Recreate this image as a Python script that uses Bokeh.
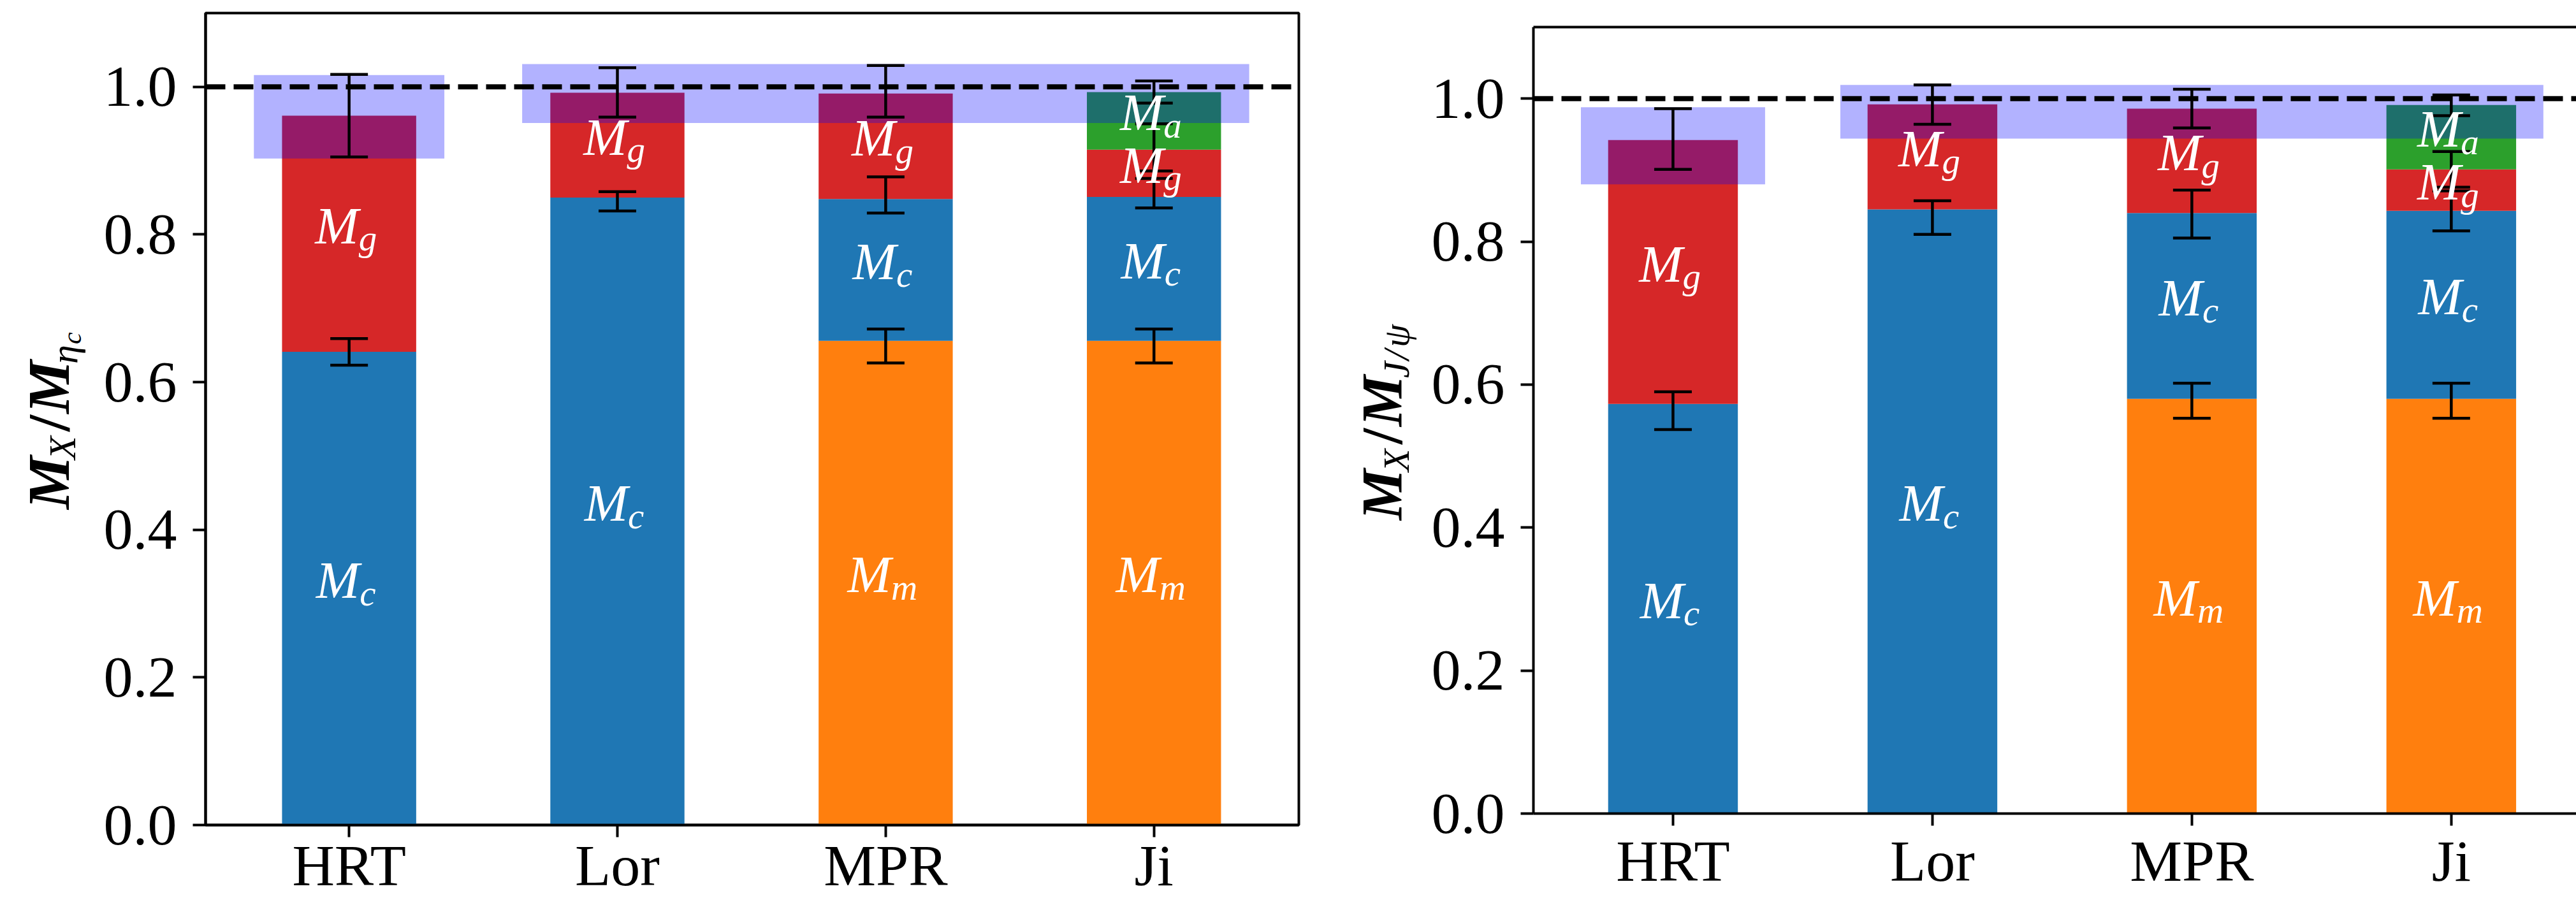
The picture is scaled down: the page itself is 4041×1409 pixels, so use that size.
from math import pi

from bokeh.core.properties import value
from bokeh.embed import file_html
from bokeh.layouts import row
from bokeh.models import FixedTicker, LinearAxis, PrintfTickFormatter, Range1d, Span
from bokeh.plotting import figure
from bokeh.resources import INLINE

methods = ["HRT", "Lor", "MPR", "Ji"]

# eta_c: mass fractions of the components for each decomposition
eta_Mm = [0.0, 0.0, 0.656, 0.656]
eta_Mc = [0.641, 0.850, 0.192, 0.195]
eta_Mg = [0.320, 0.142, 0.143, 0.064]
eta_Ma = [0.0, 0.0, 0.0, 0.078]
eta_err_x = [0, 0, 1, 1, 2, 2, 2, 3, 3, 3, 3]
eta_err_lo = [0.905, 0.623, 0.959, 0.832, 0.959, 0.829, 0.626, 0.978, 0.886, 0.836, 0.626]
eta_err_hi = [1.017, 0.659, 1.026, 0.858, 1.029, 0.878, 0.672, 1.008, 0.950, 0.876, 0.672]
eta_band_lo = [0.903, 0.951]
eta_band_hi = [1.016, 1.031]

# J/psi
jpsi_Mm = [0.0, 0.0, 0.580, 0.580]
jpsi_Mc = [0.573, 0.845, 0.260, 0.263]
jpsi_Mg = [0.369, 0.147, 0.146, 0.058]
jpsi_Ma = [0.0, 0.0, 0.0, 0.090]
jpsi_err_x = [0, 0, 1, 1, 2, 2, 2, 3, 3, 3, 3]
jpsi_err_lo = [0.901, 0.537, 0.964, 0.810, 0.959, 0.805, 0.553, 0.976, 0.876, 0.815, 0.553]
jpsi_err_hi = [0.986, 0.590, 1.019, 0.857, 1.013, 0.872, 0.602, 1.005, 0.926, 0.871, 0.602]
jpsi_band_lo = [0.880, 0.944]
jpsi_band_hi = [0.988, 1.019]

# uncertainty bands: first and last method covered by each band
band_first = [0, 1]
band_last = [0, 3]

y_ticks = [0.0, 0.2, 0.4, 0.6, 0.8, 1.0]

FONT = "Liberation Serif, Times New Roman, Times, serif"
COLORS = {"m": "#ff7f0e", "c": "#1f77b4", "g": "#d62728", "a": "#2ca02c"}
SUB_W = {"m": 41, "c": 25, "g": 28, "a": 28}
M_ADV = 68
M_SIZE = 82
SUB_SIZE = 57
MID = 0.3375  # height of the em-box middle above the baseline, in em
H = 1409


def make_panel(Mm, Mc, Mg, Ma, err_x, err_lo, err_hi, band_lo, band_hi,
               left, frame_w, frame_h, top, bottom, right, x_start, x_end,
               boxed, name_standoff):
    p = figure(frame_width=frame_w, frame_height=frame_h, title=None,
               min_border_left=left, min_border_right=right,
               min_border_top=top, min_border_bottom=bottom,
               x_range=Range1d(x_start, x_end), y_range=Range1d(0, 1.1),
               output_backend="svg", toolbar_location=None)
    p.frame_align = False
    p.background_fill_color = "white"
    p.border_fill_color = "white"
    p.xgrid.visible = False
    p.ygrid.visible = False

    ppu_x = frame_w / (x_end - x_start)
    ppu_y = frame_h / 1.1

    # stacked bars
    bottoms = [0.0] * len(methods)
    labels = []
    for key, vals in (("m", Mm), ("c", Mc), ("g", Mg), ("a", Ma)):
        xs, b, t = [], [], []
        for i, v in enumerate(vals):
            if v > 0:
                xs.append(i)
                b.append(bottoms[i])
                t.append(bottoms[i] + v)
                labels.append((i, bottoms[i] + v / 2, key))
            bottoms[i] += v
        p.vbar(x=xs, bottom=b, top=t, width=0.5, fill_color=COLORS[key], line_color=None)

    # uncertainty bands
    p.quad(left=[f - 0.355 for f in band_first], right=[l + 0.355 for l in band_last],
           bottom=band_lo, top=band_hi, fill_color="#0000ff", fill_alpha=0.3,
           line_color=None)

    # error bars
    cap = 29.5 / ppu_x
    p.segment(x0=err_x, y0=err_lo, x1=err_x, y1=err_hi, line_color="black", line_width=4.5)
    for ends in (err_lo, err_hi):
        p.segment(x0=[x - cap for x in err_x], y0=ends, x1=[x + cap for x in err_x], y1=ends,
                  line_color="black", line_width=4.5, line_cap="butt")

    p.add_layout(Span(location=1.0, dimension="width", line_color="black",
                      line_width=8, line_dash="31 13"))

    # segment labels M_x: M baseline 15 px and subscript baseline 26 px below the centre
    mx, my, sx, sy, st = [], [], [], [], []
    for i, yc, key in labels:
        total = M_ADV + SUB_W[key]
        anchor = (M_ADV - total / 2 - 5) / ppu_x
        mx.append(i + anchor)
        my.append(yc + (MID * M_SIZE - 15) / ppu_y)
        sx.append(i + anchor)
        sy.append(yc + (MID * SUB_SIZE - 26) / ppu_y)
        st.append(key)
    p.text(x=mx, y=my, text=["M"] * len(mx), text_font=value(FONT), text_font_style="italic",
           text_font_size=f"{M_SIZE}px", text_color="white", text_align="right",
           text_baseline="middle")
    p.text(x=sx, y=sy, text=st, text_font=value(FONT), text_font_style="italic",
           text_font_size=f"{SUB_SIZE}px", text_color="white", text_align="left",
           text_baseline="middle")

    # axes
    xax = p.below[0]
    yax = p.left[0]
    xax.ticker = FixedTicker(ticks=list(range(len(methods))))
    xax.major_label_overrides = {i: m for i, m in enumerate(methods)}
    xax.major_label_standoff = name_standoff
    xax.major_tick_out = 19
    yax.ticker = FixedTicker(ticks=y_ticks)
    yax.formatter = PrintfTickFormatter(format="%.1f")
    yax.major_label_standoff = 25
    yax.major_tick_out = 20
    for ax in (xax, yax):
        ax.major_label_text_font = FONT
        ax.major_label_text_font_size = "92px"
        ax.major_label_text_font_style = "normal"
        ax.major_label_text_color = "black"
        ax.major_tick_in = 0
        ax.minor_tick_out = 0
        ax.minor_tick_in = 0
        ax.axis_line_width = 4
        ax.axis_line_color = "black"
        ax.major_tick_line_width = 4
        ax.major_tick_line_color = "black"

    if boxed:
        p.outline_line_color = "black"
        p.outline_line_width = 4
        p.outline_line_alpha = 1
    else:
        # open on the right: only the top spine is drawn
        p.outline_line_color = None
        p.add_layout(LinearAxis(ticker=FixedTicker(ticks=[]), axis_line_width=4,
                                axis_line_color="black", major_tick_out=0,
                                major_tick_in=0, minor_tick_out=0, minor_tick_in=0),
                     "above")
    return p


def label_strip(width, pieces, baseline_x, center_px):
    """Vertical axis title M_X/M_... built from rotated text pieces."""
    f = figure(width=width, height=H, title=None, x_range=Range1d(0, width),
               y_range=Range1d(0, H), x_axis_type=None, y_axis_type=None,
               min_border_left=0, min_border_right=0, min_border_top=0,
               min_border_bottom=0, output_backend="svg", toolbar_location=None)
    f.frame_align = False
    f.outline_line_color = None
    f.background_fill_color = "white"
    f.border_fill_color = "white"
    total = sum(pc[4] for pc in pieces)
    s = -total / 2
    for txt, size, style, shift, adv in pieces:
        # rotated a quarter turn: glyph tops point left, text reads bottom to top
        f.text(x=[baseline_x + shift - MID * size], y=[H - center_px + s], text=[txt],
               angle=pi / 2, text_align="left", text_baseline="middle",
               text_font=value(FONT), text_font_size=f"{size}px",
               text_font_style=style, text_color="black")
        s += adv
    return f


eta_label = [("M", 94, "bold italic", 0, 78), ("X", 60, "italic", 11, 44),
             ("/", 94, "bold", 0, 28), ("M", 94, "bold italic", 0, 78),
             ("η", 60, "italic", 14, 31), ("c", 42, "italic", 20, 24)]
jpsi_label = [("M", 90, "bold italic", 0, 76), ("X", 58, "italic", 12, 43),
              ("/", 90, "bold", 0, 28), ("M", 90, "bold italic", 0, 76),
              ("J", 58, "italic", 12, 28), ("/", 58, "italic", 12, 20),
              ("ψ", 58, "italic", 12, 42)]

lab1 = label_strip(140, eta_label, baseline_x=107, center_px=657)
p1 = make_panel(eta_Mm, eta_Mc, eta_Mg, eta_Ma, eta_err_x, eta_err_lo, eta_err_hi,
                eta_band_lo, eta_band_hi,
                left=182, frame_w=1715, frame_h=1274, top=20, bottom=115, right=43,
                x_start=-0.535, x_end=3.54, boxed=True, name_standoff=-7)
lab2 = label_strip(150, jpsi_label, baseline_x=118, center_px=659)
p2 = make_panel(jpsi_Mm, jpsi_Mc, jpsi_Mg, jpsi_Ma, jpsi_err_x, jpsi_err_lo, jpsi_err_hi,
                jpsi_band_lo, jpsi_band_hi,
                left=175, frame_w=1636, frame_h=1234, top=42, bottom=133, right=0,
                x_start=-0.538, x_end=3.482, boxed=False, name_standoff=4)

layout = row(lab1, p1, lab2, p2)
open("out.html", "w").write(file_html(layout, INLINE))
